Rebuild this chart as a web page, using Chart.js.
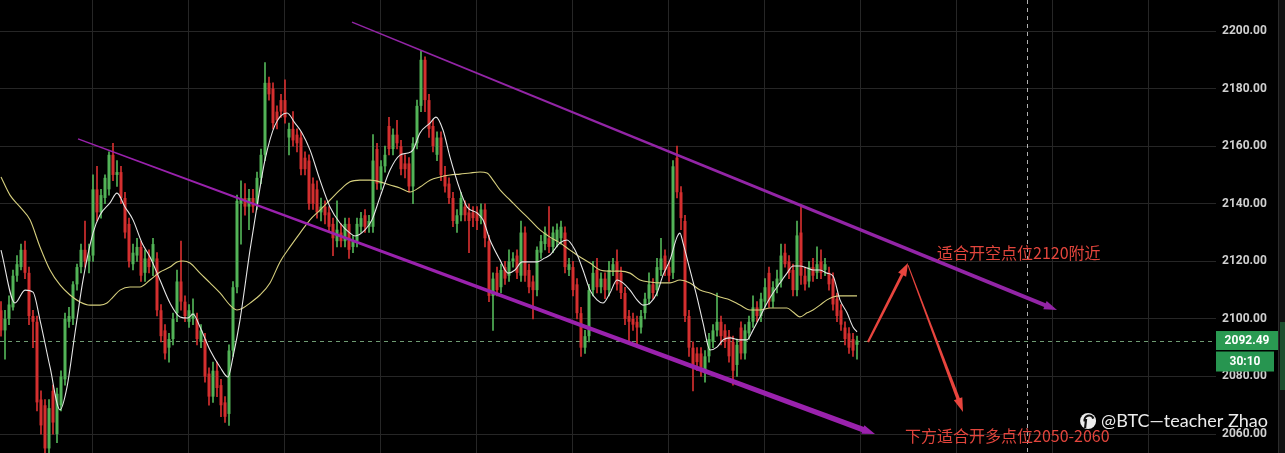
<!DOCTYPE html>
<html><head><meta charset="utf-8">
<script src="https://cdn.jsdelivr.net/npm/chart.js@4.4.1/dist/chart.umd.min.js"></script>
<style>html,body{margin:0;padding:0;background:#000;overflow:hidden}canvas{display:block}</style>
</head><body>
<canvas id="c" width="1285" height="453"></canvas>
<script>
// ---- hourly candles (index 0 = first visible candle) ----
const opens = [2103,2096,2100,2104,2115,2118,2124,2116,2101,2099,2072,2070,2055,2075,2060,2070,2079,2099,2100,2112,
2118,2124,2120,2122,2145,2137,2142,2145,2157,2150,2151,2142,2133,2119,2122,2125,2116,2121,2120,2121,
2103,2096,2090,2093,2102,2113,2106,2099,2100,2100,2092,2093,2081,2073,2082,2077,2071,2067,2089,2111,
2140,2142,2139,2142,2140,2149,2157,2182,2180,2172,2176,2176,2163,2166,2164,2163,2156,2155,2147,2145,
2137,2139,2137,2133,2127,2130,2127,2133,2125,2127,2132,2136,2132,2132,2159,2147,2153,2167,2159,2164,
2160,2154,2154,2146,2161,2174,2190,2176,2167,2157,2163,2150,2147,2142,2133,2136,2139,2137,2137,2137,
2135,2138,2127,2108,2116,2111,2118,2115,2120,2122,2115,2130,2117,2113,2110,2123,2126,2128,2125,2127,
2128,2130,2117,2118,2112,2102,2090,2094,2110,2117,2111,2114,2110,2117,2120,2116,2109,2101,2100,2099,
2097,2102,2107,2112,2110,2117,2122,2118,2116,2156,2144,2134,2101,2090,2088,2088,2082,2087,2092,2096,
2099,2096,2094,2092,2084,2097,2088,2095,2099,2104,2101,2106,2116,2106,2111,2113,2123,2120,2117,2110,
2130,2115,2113,2118,2116,2120,2117,2116,2114,2107,2103,2097,2095,2093,2091];
const highs = [2106,2103,2108,2117,2122,2126,2127,2118,2103,2101,2075,2072,2072,2077,2076,2082,2102,2104,2113,2119,
2126,2134,2126,2150,2153,2145,2150,2158,2161,2155,2153,2144,2135,2126,2128,2127,2124,2124,2128,2123,
2105,2098,2095,2102,2117,2127,2108,2105,2107,2102,2098,2095,2083,2085,2085,2079,2073,2091,2113,2143,
2148,2147,2145,2145,2151,2159,2189,2184,2182,2174,2178,2183,2168,2172,2166,2165,2158,2157,2149,2148,
2142,2141,2139,2135,2141,2133,2135,2135,2129,2135,2137,2138,2136,2164,2161,2155,2160,2170,2166,2169,
2162,2157,2156,2163,2176,2193,2191,2178,2169,2165,2165,2153,2149,2144,2138,2144,2141,2140,2139,2139,
2140,2140,2129,2116,2118,2119,2120,2124,2123,2124,2134,2132,2119,2115,2125,2129,2132,2139,2132,2133,
2134,2132,2121,2120,2114,2104,2096,2112,2120,2121,2116,2116,2120,2121,2124,2118,2111,2103,2102,2101,
2103,2109,2116,2114,2121,2128,2124,2120,2155,2160,2146,2136,2103,2092,2090,2090,2089,2095,2098,2109,
2101,2098,2096,2094,2093,2099,2098,2101,2108,2106,2109,2114,2118,2113,2117,2126,2126,2122,2119,2134,
2139,2118,2120,2121,2125,2124,2121,2118,2116,2109,2105,2099,2097,2095,2094];
const lows = [2094,2086,2098,2103,2113,2117,2114,2098,2090,2068,2060,2050,2052,2060,2057,2068,2077,2097,2098,2110,
2116,2118,2116,2120,2134,2135,2140,2143,2148,2146,2140,2128,2118,2117,2120,2113,2113,2116,2115,2101,
2092,2086,2085,2091,2099,2103,2099,2097,2098,2091,2090,2078,2070,2071,2073,2066,2064,2063,2087,2109,
2126,2136,2131,2137,2138,2147,2155,2176,2166,2166,2170,2168,2157,2160,2158,2150,2150,2138,2138,2135,
2134,2133,2130,2122,2125,2125,2125,2121,2123,2125,2130,2130,2130,2130,2145,2145,2151,2157,2157,2159,
2150,2149,2144,2140,2159,2172,2172,2163,2158,2155,2148,2144,2140,2132,2130,2134,2134,2123,2132,2131,
2133,2125,2106,2096,2108,2109,2112,2113,2118,2114,2113,2113,2109,2100,2108,2121,2124,2123,2123,2125,
2126,2116,2115,2108,2100,2087,2088,2092,2108,2109,2109,2107,2108,2115,2110,2107,2098,2092,2096,2090,
2095,2100,2105,2107,2108,2115,2115,2113,2114,2142,2131,2099,2087,2075,2082,2080,2078,2085,2090,2094,
2091,2090,2085,2077,2080,2086,2086,2093,2097,2099,2099,2104,2104,2104,2109,2111,2118,2114,2108,2108,
2112,2110,2111,2113,2114,2114,2115,2110,2103,2099,2096,2091,2088,2087,2086];
const closes = [2096,2100,2105,2115,2119,2124,2116,2101,2099,2071,2063,2055,2069,2064,2074,2080,2100,2101,2112,2118,
2124,2120,2122,2145,2137,2143,2149,2157,2150,2151,2142,2130,2120,2123,2125,2115,2121,2118,2126,2103,
2094,2088,2093,2100,2113,2106,2101,2103,2102,2093,2096,2080,2073,2082,2076,2070,2066,2089,2111,2141,
2142,2139,2142,2139,2149,2157,2182,2178,2168,2169,2172,2170,2166,2162,2161,2152,2152,2140,2140,2137,
2139,2136,2132,2128,2131,2127,2133,2124,2127,2133,2135,2132,2134,2155,2147,2153,2157,2159,2164,2161,
2152,2152,2146,2161,2174,2190,2176,2166,2160,2163,2150,2146,2142,2134,2136,2142,2136,2134,2135,2134,
2138,2128,2108,2114,2110,2117,2114,2120,2121,2116,2130,2115,2111,2110,2124,2127,2130,2125,2130,2131,
2132,2118,2119,2110,2102,2090,2094,2110,2116,2111,2114,2110,2117,2119,2112,2109,2100,2099,2098,2097,
2101,2107,2112,2109,2118,2121,2117,2115,2153,2144,2135,2101,2090,2084,2085,2083,2087,2093,2096,2099,
2094,2092,2087,2082,2091,2088,2096,2099,2104,2101,2107,2111,2106,2111,2114,2122,2119,2116,2110,2129,
2115,2112,2118,2115,2119,2116,2119,2112,2105,2101,2098,2093,2090,2089,2092.49];

// ---- moving averages: [candle index, price] ----
const maFast = [[0,2123.9],[3.5,2105.5],[6,2110.0],[8,2109.3],[9.75,2099.6],[12.25,2083.3],[14.75,2068.4],[16.5,2076.3],[18.5,2095.1],[20.5,2113.5],[23,2129.8],[24.75,2136.1],[27.25,2140.3],[29,2143.7],[31,2138.9],[33,2134.4],[35.25,2126.4],[37.25,2121.5],[39.75,2113.5],[42.25,2105.5],[44.75,2100.7],[46.75,2100.3],[48,2101.7],[49.75,2097.2],[52.25,2089.2],[54.75,2083.3],[56.75,2079.8],[58,2086.8],[59.75,2099.6],[62.25,2123.9],[64.25,2141.3],[66,2155.2],[68.5,2167.3],[71.5,2171.5],[73.5,2168.0],[75.25,2164.6],[77.25,2158.7],[79.75,2148.2],[82.25,2138.9],[84.75,2133.3],[87.25,2129.8],[88.5,2128.8],[91,2130.9],[92.75,2134.4],[94.75,2142.3],[97.25,2151.7],[99.75,2156.9],[101.75,2157.6],[103,2158.7],[104.75,2164.6],[107.25,2168.0],[108.75,2170.1],[110.5,2165.6],[112.25,2156.2],[114.75,2144.8],[116.5,2138.9],[119,2136.8],[120.5,2134.4],[122.25,2127.4],[124.75,2120.5],[126.75,2115.9],[128.5,2117.0],[130.25,2119.8],[134,2119.8],[136,2121.2],[137.25,2122.2],[139.75,2126.4],[141.5,2127.4],[143.5,2123.9],[145.5,2117.0],[147.25,2110.0],[149,2106.6],[150.5,2105.5],[152.25,2109.0],[154,2113.5],[155.5,2112.5],[157.25,2110.0],[159,2106.6],[160.5,2104.8],[162.25,2105.5],[164,2109.0],[165.5,2115.2],[167.25,2120.5],[169,2128.4],[169.75,2129.8],[170.5,2126.4],[172.25,2117.0],[174,2107.6],[175.5,2098.6],[177.25,2089.2],[179,2090.2],[180.5,2092.7],[182.25,2093.4],[184.75,2092.7],[186.5,2092.7],[188,2096.1],[189.75,2100.7],[191.5,2105.5],[193,2109.0],[194.75,2112.5],[196.5,2115.9],[198,2118.4],[199.75,2118.4],[201.5,2117.7],[203,2117.0],[204.75,2117.0],[206.5,2115.9],[208,2114.9],[209.75,2106.6],[211.5,2102.1],[213,2097.2],[214,2095.5]];
const maSlow = [[0,2149.3],[2.25,2143.0],[4.75,2138.9],[7.25,2134.4],[9.75,2125.0],[12.25,2117.0],[14.75,2111.8],[17.25,2108.3],[19.75,2105.9],[22.25,2104.8],[24.75,2104.8],[26.5,2105.5],[28,2107.6],[29.75,2110.0],[32.25,2111.1],[34.75,2111.1],[37.25,2113.5],[39.75,2116.3],[42.25,2118.0],[44,2119.8],[45.5,2120.1],[47.25,2119.4],[49.75,2115.9],[52.25,2112.5],[54.75,2109.0],[57.25,2104.8],[59,2103.1],[60.5,2103.8],[62.25,2105.5],[64.75,2108.3],[67.25,2112.5],[69.75,2119.8],[72.25,2125.0],[74.75,2129.8],[77.25,2134.4],[79.75,2137.8],[82.25,2141.3],[84.75,2144.8],[87.25,2147.6],[89.75,2148.2],[92.25,2148.2],[94.75,2147.6],[97.25,2146.5],[99.75,2145.5],[102.25,2144.1],[104.75,2145.8],[107.25,2148.2],[109.75,2149.3],[112.25,2150.0],[114.75,2150.3],[117.25,2150.7],[119.75,2151.0],[121.5,2150.7],[123,2148.2],[124.75,2144.8],[127.25,2141.3],[129.75,2137.8],[132.25,2134.4],[134.75,2130.9],[137.25,2128.4],[139.75,2126.4],[142.25,2123.9],[144.75,2121.5],[147.25,2119.4],[149.75,2117.0],[152.25,2116.6],[154.75,2116.6],[157.25,2115.9],[159.75,2113.5],[162.25,2112.8],[164.75,2112.5],[167.25,2112.5],[169.75,2113.5],[172.25,2112.5],[174.75,2110.0],[177.25,2109.0],[179.75,2107.6],[182.25,2106.6],[184.75,2104.8],[187.25,2103.1],[189.75,2103.1],[192.25,2103.8],[196.5,2103.8],[198,2102.4],[199.75,2100.7],[201.5,2102.1],[203,2103.1],[204.75,2104.8],[206.5,2106.6],[208,2107.6],[209.75,2108.0],[214,2108.0]];

// ---- axis ticks ----
const priceTicks = [2060,2080,2100,2120,2140,2160,2180,2200];
const dayLines = [22.75,46.75,70.75,94.75,118.75,142.75,166.75,190.75,214.75,238.75,262.75,286.75];
const lastPrice = 2092.49;
const countdown = '30:10';

// ---- drawn annotations, in [candle index, price] ----
const upperChannel = [[87.75,2203.1],[264,2103.1]];
const lowerChannel = [[19.25,2162.5],[218.5,2060.0]];
const arrowUp = [[216.75,2092.0],[226.75,2119.4]];
const arrowDown = [[226.75,2118.7],[240.5,2067.7]];
const noteShort = {text:'适合开空点位2120附近', at:[234,2122.9]};
const noteLong = {text:'下方适合开多点位2050-2060', at:[226,2059.3]};
const cursorIndex = 256.5;
const watermark = '@BTC—teacher Zhao';

const UP = '#52b357', DOWN = '#d42f2f';
const idx = opens.map((_, i) => i);
const colorOf = i => closes[i] >= opens[i] ? UP : DOWN;

function taper(ctx, p0, p1, w0, w1, color, head){
  const [x0,y0]=p0,[x1,y1]=p1;
  const dx=x1-x0, dy=y1-y0, L=Math.hypot(dx,dy), ux=dx/L, uy=dy/L, nx=-uy, ny=ux;
  const hl = head ? head[0] : 0;
  const ex=x1-ux*hl*0.7, ey=y1-uy*hl*0.7;
  ctx.fillStyle=color; ctx.beginPath();
  ctx.moveTo(x0+nx*w0/2,y0+ny*w0/2); ctx.lineTo(ex+nx*w1/2,ey+ny*w1/2);
  ctx.lineTo(ex-nx*w1/2,ey-ny*w1/2); ctx.lineTo(x0-nx*w0/2,y0-ny*w0/2); ctx.closePath(); ctx.fill();
  if(head){
    const hw=head[1], bx=x1-ux*hl, by=y1-uy*hl;
    ctx.beginPath(); ctx.moveTo(x1,y1); ctx.lineTo(bx+nx*hw/2,by+ny*hw/2); ctx.lineTo(bx-nx*hw/2,by-ny*hw/2); ctx.closePath(); ctx.fill();
  }
}

const decor = {
  id:'decor',
  beforeDraw(chart){
    const c=chart.ctx; c.save(); c.fillStyle='#000'; c.fillRect(0,0,chart.width,chart.height); c.restore();
  },
  beforeDatasetsDraw(chart){
    const {ctx, scales:{x,y}, chartArea:a} = chart;
    ctx.save();
    ctx.setLineDash([4,4]); ctx.lineWidth=1;
    ctx.strokeStyle='rgba(235,235,235,0.75)';
    const cx=Math.round(x.getPixelForValue(cursorIndex))+0.5;
    ctx.beginPath(); ctx.moveTo(cx,0); ctx.lineTo(cx,a.bottom); ctx.stroke();
    ctx.strokeStyle='#6f9a72';
    const py=Math.round(y.getPixelForValue(lastPrice))+0.5;
    ctx.beginPath(); ctx.moveTo(a.left,py); ctx.lineTo(a.right,py); ctx.stroke();
    ctx.restore();
  },
  afterDatasetsDraw(chart){
    const {ctx, scales:{x,y}} = chart;
    const P = p => [x.getPixelForValue(p[0]), y.getPixelForValue(p[1])];
    ctx.save();
    taper(ctx, P(lowerChannel[0]), P(lowerChannel[1]), 1.3, 5.5, '#9a22ad', [13,9]);
    taper(ctx, P(upperChannel[0]), P(upperChannel[1]), 1.2, 4.0, '#9325a6', [13,9]);
    taper(ctx, P(arrowUp[0]), P(arrowUp[1]), 2.2, 3.0, '#e8453e', [13,9]);
    taper(ctx, P(arrowDown[0]), P(arrowDown[1]), 1.0, 3.6, '#e8453e', [14,9]);
    ctx.font='16px "Noto Sans CJK SC", "Noto Sans", sans-serif';
    ctx.fillStyle='#e2453c'; ctx.textBaseline='middle'; ctx.textAlign='left';
    let q=P(noteShort.at); ctx.fillText(noteShort.text, q[0], q[1]);
    q=P(noteLong.at); ctx.fillText(noteLong.text, q[0], q[1]);
    ctx.restore();
  },
  afterDraw(chart){
    const {ctx, scales:{y}, chartArea:a} = chart;
    ctx.save();
    // right side panel strip
    ctx.fillStyle='#121212'; ctx.fillRect(a.right+62, 0, chart.width-(a.right+62), chart.height);
    ctx.fillStyle='#2b2b2b'; ctx.fillRect(a.right+62, 0, 1, chart.height);
    ctx.fillStyle='#1d4f2e'; ctx.fillRect(a.right+64, 322, chart.width-(a.right+64), 68);
    // price + countdown boxes
    const py=y.getPixelForValue(lastPrice);
    ctx.fillStyle='#2a9a52'; ctx.fillRect(a.right, py-9.5, 62, 19);
    ctx.fillStyle='#279550'; ctx.fillRect(a.right, py+11, 58, 20);
    ctx.fillStyle='#ffffff'; ctx.font='bold 12px Roboto, "DejaVu Sans", sans-serif';
    ctx.textAlign='center'; ctx.textBaseline='middle';
    ctx.fillText(lastPrice.toFixed(2), a.right+31, py+0.5);
    ctx.fillText(countdown, a.right+29, py+21.5);
    // watermark
    const wx=chart.width-17, wy=421;
    ctx.font='18px Lato, "Noto Sans", sans-serif'; ctx.textAlign='right'; ctx.textBaseline='middle';
    ctx.shadowColor='rgba(0,0,0,0.8)'; ctx.shadowBlur=2;
    ctx.fillStyle='#ececec'; ctx.fillText(watermark, wx, wy);
    const tw=ctx.measureText(watermark).width;
    const ix=wx-tw-13;
    ctx.beginPath(); ctx.arc(ix, wy, 8, 0, Math.PI*2); ctx.fill();
    ctx.shadowBlur=0;
    ctx.strokeStyle='#111'; ctx.lineWidth=2.2;
    ctx.beginPath(); ctx.arc(ix+1, wy-1, 4.5, Math.PI*0.9, Math.PI*1.9); ctx.stroke();
    ctx.beginPath(); ctx.moveTo(ix-2, wy-2); ctx.lineTo(ix-3, wy+7); ctx.stroke();
    ctx.restore();
  }
};

new Chart(document.getElementById('c'), {
  type:'bar',
  data:{ datasets:[
    { type:'line', label:'MA fast', data:maFast.map(p=>({x:p[0],y:p[1]})), borderColor:'#e6e6e6', borderWidth:1.1,
      pointRadius:0, cubicInterpolationMode:'monotone', order:0 },
    { type:'line', label:'MA slow', data:maSlow.map(p=>({x:p[0],y:p[1]})), borderColor:'#d6cf7e', borderWidth:1.1,
      pointRadius:0, cubicInterpolationMode:'monotone', order:1 },
    { label:'body', data:idx.map(i=>({x:i,y:[opens[i],closes[i]]})), backgroundColor:idx.map(colorOf),
      borderWidth:0, barPercentage:0.75, categoryPercentage:1, grouped:false, minBarLength:1, order:2 },
    { label:'wick', data:idx.map(i=>({x:i,y:[lows[i],highs[i]]})), backgroundColor:idx.map(colorOf),
      borderWidth:0, barThickness:1, grouped:false, order:3 }
  ]},
  plugins:[decor],
  options:{
    responsive:false, animation:false, devicePixelRatio:1,
    layout:{padding:0},
    plugins:{legend:{display:false}, tooltip:{enabled:false}},
    scales:{
      x:{ type:'linear', min:-0.25, max:303.75, offset:false,
          afterBuildTicks:s=>{ s.ticks = dayLines.map(v=>({value:v})); },
          afterFit:s=>{ s.height=0; s.paddingLeft=0; s.paddingRight=0; s.paddingTop=0; s.paddingBottom=0; },
          ticks:{display:false}, border:{display:false},
          grid:{color:'#262626', drawTicks:false, offset:false, lineWidth:1} },
      y:{ position:'right', min:2053.42, max:2210.77,
          afterBuildTicks:s=>{ s.ticks = priceTicks.map(v=>({value:v})); },
          afterFit:s=>{ s.width=69; s.paddingTop=0; s.paddingBottom=0; s.paddingLeft=0; s.paddingRight=0; },
          border:{display:false},
          grid:{color:'#262626', drawTicks:false, lineWidth:1},
          ticks:{ padding:6, color:'#cfcfcf', font:{family:'Roboto, "DejaVu Sans", sans-serif', size:12, weight:'bold'},
                  callback:v=>Number(v).toFixed(2) } }
    }
  }
});
</script>
</body></html>
